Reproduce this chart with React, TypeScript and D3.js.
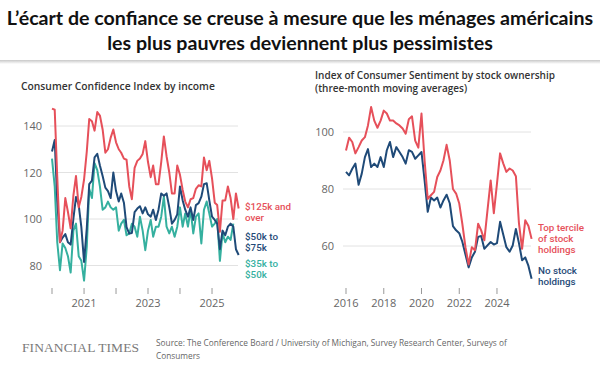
import React, { useEffect, useRef } from 'react';
import * as d3 from 'd3';

// Consumer Confidence Index by income, monthly from Jan 2020
const incomeStart = new Date(2020, 0, 1);
const income125 = [147.5, 147, 118, 90, 95, 109, 103, 96, 110, 118.5, 105, 109.5, 117, 129, 143, 142, 138, 146, 144.5, 138.5, 128.5, 130, 135, 138.5, 133, 130, 128.5, 126, 125.5, 114, 108.5, 122, 125, 126, 128, 133.5, 124.5, 118, 123, 115, 115, 124.5, 135.5, 127, 120, 111, 111, 123, 119, 112.5, 107.5, 105, 108.5, 109, 113, 114.5, 114, 126.5, 121, 125, 117.5, 107, 106, 94.5, 108, 108, 114, 109, 100, 111, 104.5];
const income5075 = [129, 134, 108, 90, 92, 93.5, 90, 89, 100, 109.5, 106, 96.5, 81.5, 96, 115, 116.5, 126.5, 128, 123, 118.5, 113.5, 112, 109, 120, 112, 107.5, 111, 107, 96.5, 93.7, 94, 103, 104.5, 105.5, 102.4, 105, 102, 101, 104, 99.6, 104, 111, 110, 111, 105, 98, 99.6, 102, 114, 108, 104, 101, 105, 99.6, 106, 106.8, 109.6, 115, 115.4, 108, 101, 99.6, 98, 87, 95, 93, 96.7, 98, 96.7, 87, 84.5];
const income3550 = [126, 114, 90, 78, 89.5, 87.5, 84, 77, 95, 98, 84, 82, 73.5, 88, 113, 109, 124, 121, 114, 104, 105, 107.5, 105, 104, 105, 95, 98, 99.6, 93, 93.8, 98, 96.7, 92.4, 101, 95, 86.6, 95, 99.6, 92.4, 96.7, 96.7, 101, 109.6, 96.7, 93.8, 96.7, 92.4, 96.7, 105, 96.7, 102.4, 96.7, 104, 93.8, 101, 102.4, 89.5, 104, 107.5, 102.4, 96.7, 98, 100, 82, 94, 90, 92.4, 91, 98];
const incomeTickYears = [2020, 2021, 2022, 2023, 2024, 2025];
const incomeLabelYears = [2021, 2023, 2025];
const incomeYTicks = [80, 100, 120, 140];

// Index of Consumer Sentiment by stock ownership, every second month from Jan 2016
const stockStart = new Date(2016, 0, 1);
const topTercile = [93.5, 98, 96.5, 92.5, 94.7, 97, 98.2, 102.3, 108.8, 104, 101.5, 104, 107.5, 106.5, 104, 104, 103, 102.3, 101.2, 99.4, 104.5, 105.5, 97, 94.5, 106.5, 90, 76.5, 77.8, 79, 84.2, 86.5, 90, 95.5, 90, 80, 78.4, 74.9, 67.8, 59.6, 53.5, 59.6, 58.5, 67.8, 65.5, 62, 72.5, 83, 71.5, 81.9, 92.5, 89, 86, 87.2, 86.5, 84.5, 68, 59, 69, 67, 62.5];
const noStock = [86, 84.8, 87.1, 88.9, 81.5, 85.4, 91.2, 94, 87.7, 88.9, 87.7, 91.2, 87.7, 93.6, 96.5, 91.2, 94.7, 93, 91.2, 88.9, 93.6, 93, 90.6, 91.8, 93, 83, 72, 77, 76, 77, 73.5, 76, 78, 75, 67, 65.5, 64.5, 61.5, 57, 52.5, 56, 58, 63.2, 63.5, 59, 60.2, 61.4, 60.5, 61, 68.5, 64, 59.6, 58, 60.2, 66, 61, 55, 56, 53, 48.5];
const stockTickYears = [2016, 2018, 2020, 2022, 2024];
const stockYTicks = [60, 80, 100];

const RED = '#e6505a';
const NAVY = '#1f4a78';
const TEAL = '#35b09f';
const SANS = '"Open Sans", "Noto Sans", sans-serif';
const LABEL = 'Roboto, "Open Sans", sans-serif';

function App() {
  const ref = useRef<SVGSVGElement>(null);

  useEffect(() => {
    if (!ref.current) return;
    const svg = d3.select(ref.current);
    svg.selectAll('*').remove();

    svg.append('rect').attr('width', 600).attr('height', 374).attr('fill', '#fff');

    // title box with soft shadow
    const grad = svg.append('defs').append('linearGradient')
      .attr('id', 'shade').attr('x1', 0).attr('y1', 0).attr('x2', 0).attr('y2', 1);
    grad.append('stop').attr('offset', '0%').attr('stop-color', '#c8c8c8');
    grad.append('stop').attr('offset', '100%').attr('stop-color', '#ffffff');
    svg.append('rect').attr('x', 0).attr('y', 60).attr('width', 600).attr('height', 4).attr('fill', 'url(#shade)');

    const title = svg.append('text')
      .attr('text-anchor', 'middle')
      .attr('font-family', 'Lato, "Open Sans", sans-serif')
      .attr('font-weight', 700)
      .attr('font-size', 19.6)
      .attr('fill', '#111');
    title.append('tspan').attr('x', 300).attr('y', 25)
      .text('L’écart de confiance se creuse à mesure que les ménages américains');
    title.append('tspan').attr('x', 300).attr('y', 50)
      .text('les plus pauvres deviennent plus pessimistes');

    // ---------- left panel ----------
    const xL = d3.scaleTime()
      .domain([new Date(2020, 0, 1), new Date(2026, 0, 1)])
      .range([52, 244]);
    const yL = d3.scaleLinear().domain([80, 140]).range([265.5, 126]);

    const left = svg.append('g');
    left.append('text').attr('x', 21).attr('y', 90)
      .attr('font-family', SANS).attr('font-size', 10.3).attr('font-weight', 600)
      .attr('fill', '#333').text('Consumer Confidence Index by income');

    left.selectAll('line.grid').data(incomeYTicks).join('line')
      .attr('class', 'grid')
      .attr('x1', 50).attr('x2', 238)
      .attr('y1', d => yL(d)).attr('y2', d => yL(d))
      .attr('stroke', '#e2e2e2').attr('stroke-width', 1);
    left.selectAll('text.ytick').data(incomeYTicks).join('text')
      .attr('class', 'ytick')
      .attr('x', 42).attr('y', d => yL(d) + 4)
      .attr('text-anchor', 'end')
      .attr('font-family', SANS).attr('font-size', 11).attr('fill', '#666')
      .text(d => d);
    left.selectAll('line.xtick').data(incomeTickYears).join('line')
      .attr('class', 'xtick')
      .attr('x1', d => xL(new Date(d, 0, 1))).attr('x2', d => xL(new Date(d, 0, 1)))
      .attr('y1', 288).attr('y2', 294)
      .attr('stroke', '#999').attr('stroke-width', 1);
    left.selectAll('text.xlab').data(incomeLabelYears).join('text')
      .attr('class', 'xlab')
      .attr('x', d => xL(new Date(d, 0, 1))).attr('y', 307)
      .attr('text-anchor', 'middle')
      .attr('font-family', SANS).attr('font-size', 11).attr('fill', '#666')
      .text(d => d);

    const lineL = d3.line<number>()
      .x((_, i) => xL(d3.timeMonth.offset(incomeStart, i)))
      .y(d => yL(d));
    [[income3550, TEAL], [income5075, NAVY], [income125, RED]].forEach(([vals, col]) => {
      left.append('path').datum(vals as number[])
        .attr('d', lineL).attr('fill', 'none')
        .attr('stroke', col as string).attr('stroke-width', 2)
        .attr('stroke-linejoin', 'round');
    });

    const labelsL: [string[], string, number][] = [
      [['$125k and', 'over'], RED, 210],
      [['$50k to', '$75k'], NAVY, 240],
      [['$35k to', '$50k'], TEAL, 267],
    ];
    labelsL.forEach(([lines, col, y0]) => {
      lines.forEach((s, i) => left.append('text')
        .attr('x', 245).attr('y', y0 + i * 11)
        .attr('font-family', LABEL).attr('font-size', 9.8)
        .attr('font-weight', 500).attr('fill', col).text(s));
    });

    // ---------- right panel ----------
    const xR = d3.scaleTime()
      .domain([new Date(2016, 0, 1), new Date(2026, 0, 1)])
      .range([346, 534.75]);
    const yR = d3.scaleLinear().domain([60, 100]).range([246, 132]);

    const right = svg.append('g');
    const rt = right.append('text').attr('font-family', SANS).attr('font-size', 10)
      .attr('font-weight', 600).attr('fill', '#333');
    rt.append('tspan').attr('x', 315).attr('y', 79).text('Index of Consumer Sentiment by stock ownership');
    rt.append('tspan').attr('x', 315).attr('y', 92).text('(three-month moving averages)');

    right.selectAll('line.grid').data(stockYTicks).join('line')
      .attr('class', 'grid')
      .attr('x1', 343).attr('x2', 531)
      .attr('y1', d => yR(d)).attr('y2', d => yR(d))
      .attr('stroke', '#e2e2e2').attr('stroke-width', 1);
    right.selectAll('text.ytick').data(stockYTicks).join('text')
      .attr('class', 'ytick')
      .attr('x', 334).attr('y', d => yR(d) + 4)
      .attr('text-anchor', 'end')
      .attr('font-family', SANS).attr('font-size', 11).attr('fill', '#666')
      .text(d => d);
    right.selectAll('line.xtick').data(stockTickYears).join('line')
      .attr('class', 'xtick')
      .attr('x1', d => xR(new Date(d, 0, 1))).attr('x2', d => xR(new Date(d, 0, 1)))
      .attr('y1', 288).attr('y2', 294)
      .attr('stroke', '#999').attr('stroke-width', 1);
    right.selectAll('text.xlab').data(stockTickYears).join('text')
      .attr('class', 'xlab')
      .attr('x', d => xR(new Date(d, 0, 1))).attr('y', 307)
      .attr('text-anchor', 'middle')
      .attr('font-family', SANS).attr('font-size', 11).attr('fill', '#666')
      .text(d => d);

    const lineR = d3.line<number>()
      .x((_, i) => xR(d3.timeMonth.offset(stockStart, i * 2)))
      .y(d => yR(d));
    [[noStock, NAVY], [topTercile, RED]].forEach(([vals, col]) => {
      right.append('path').datum(vals as number[])
        .attr('d', lineR).attr('fill', 'none')
        .attr('stroke', col as string).attr('stroke-width', 2)
        .attr('stroke-linejoin', 'round');
    });

    const labelsR: [string[], string, number][] = [
      [['Top tercile', 'of stock', 'holdings'], RED, 231],
      [['No stock', 'holdings'], NAVY, 274],
    ];
    labelsR.forEach(([lines, col, y0]) => {
      lines.forEach((s, i) => right.append('text')
        .attr('x', 538).attr('y', y0 + i * 11)
        .attr('font-family', LABEL).attr('font-size', 9.8)
        .attr('font-weight', 500).attr('fill', col).text(s));
    });

    // ---------- footer ----------
    svg.append('text').attr('x', 22).attr('y', 352)
      .attr('font-family', '"Liberation Serif", serif').attr('font-size', 13.5)
      .attr('fill', '#7a7a7a').attr('textLength', 117)
      .text('FINANCIAL TIMES');
    const src = svg.append('text').attr('font-family', SANS).attr('font-size', 8.3).attr('fill', '#666');
    src.append('tspan').attr('x', 156).attr('y', 346)
      .text('Source: The Conference Board / University of Michigan, Survey Research Center, Surveys of');
    src.append('tspan').attr('x', 156).attr('y', 359).text('Consumers');
  }, []);

  return (
    <svg
      ref={ref}
      width={600}
      height={374}
      style={{ position: 'absolute', left: 0, top: 0, display: 'block' }}
    />
  );
}

export default App;
